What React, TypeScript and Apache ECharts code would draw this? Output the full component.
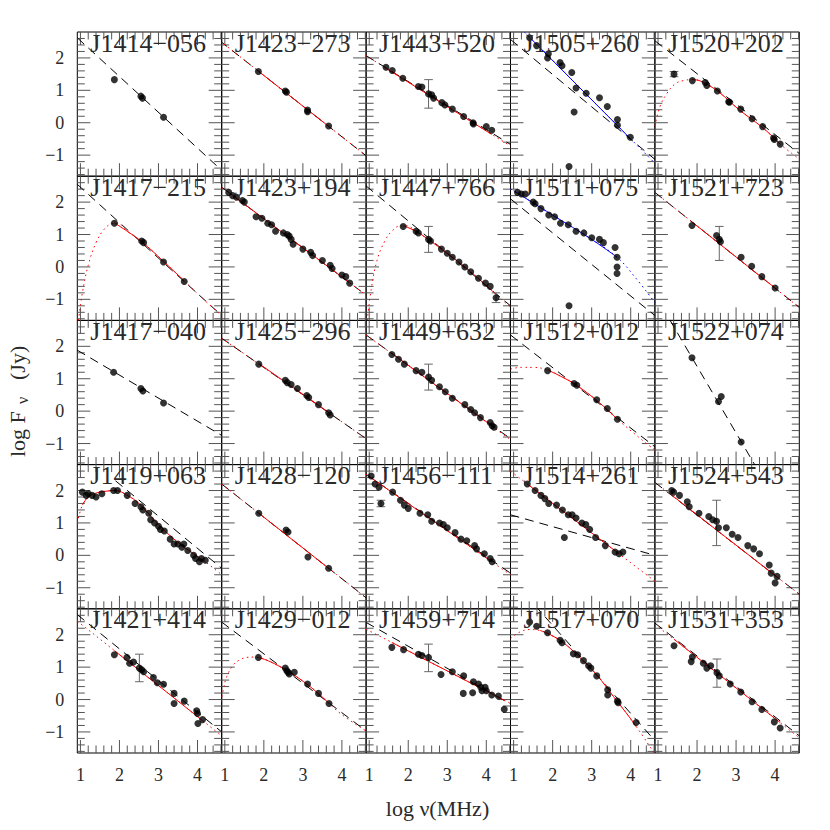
import React, { useEffect, useRef } from 'react';
import * as echarts from 'echarts';

// ---------- axes ----------
const X_MIN = 0.92, X_MAX = 4.62, Y_MIN = -1.65, Y_MAX = 2.8;
const X_MAJOR = [1, 2, 3, 4];
const X_MINOR = [1.2, 1.4, 1.6, 1.8, 2.2, 2.4, 2.6, 2.8, 3.2, 3.4, 3.6, 3.8, 4.2, 4.4, 4.6];
const Y_MAJOR = [-1, 0, 1, 2];
const Y_MINOR = [-1.6, -1.4, -1.2, -0.8, -0.6, -0.4, -0.2, 0.2, 0.4, 0.6, 0.8, 1.2, 1.4, 1.6, 1.8, 2.2, 2.4, 2.6];

// ---------- panel data (log nu [MHz], log F [Jy]) ----------
// Row 1
const J1414m056_pts = [[1.87, 1.33], [2.55, 0.82], [2.59, 0.76], [3.13, 0.17]];
const J1414m056_dash = [[0.92, 2.62], [4.62, -1.47]];

const J1423m273_pts = [[1.86, 1.58], [2.55, 0.98], [2.58, 0.94], [3.12, 0.39], [3.12, 0.34], [3.66, -0.1]];
const J1423m273_dash = [[0.88, 2.52], [4.62, -1.02]];
const J1423m273_fit = [[1.86, 1.59], [3.66, -0.11]];
const J1423m273_ext = [[0.88, 2.52], [4.62, -1.02]];

const J1443p520_pts = [[1.43, 1.71], [1.59, 1.61], [1.86, 1.37], [2.26, 1.12], [2.35, 1.1], [2.52, 0.89], [2.6, 0.86], [2.65, 0.76], [2.86, 0.62], [2.94, 0.55], [3.13, 0.42], [3.42, 0.19], [3.66, 0.0], [3.67, -0.04], [4.0, -0.12], [4.14, -0.23]];
const J1443p520_err = [[2.52, 0.45, 1.33]];
const J1443p520_dash = [[0.92, 2.07], [4.62, -0.67]];
const J1443p520_fit = [[1.43, 1.68], [4.14, -0.36]];
const J1443p520_ext = [[0.92, 2.07], [4.62, -0.72]];

const J1505p260_pts = [[1.41, 2.62], [1.59, 2.38], [1.89, 2.13], [1.87, 2.0], [2.19, 1.86], [2.24, 1.76], [2.49, 1.55], [2.6, 1.07], [2.55, 0.33], [2.86, 0.91], [3.2, 0.77], [3.4, 0.5], [3.66, 0.1], [3.66, -0.08], [3.99, -0.45], [2.42, -1.35]];
const J1505p260_dash = [[0.92, 2.57], [4.62, -1.13]];
const J1505p260_blue = [[1.34, 2.72], [3.99, -0.49]];
const J1505p260_blueExt = [[0.92, 3.23], [4.62, -1.25]];

const J1520p202_pts = [[1.41, 1.5], [1.88, 1.3], [2.21, 1.24], [2.25, 1.15], [2.52, 0.98], [2.81, 0.65], [2.83, 0.63], [3.12, 0.42], [3.41, 0.12], [3.68, -0.12], [3.96, -0.47], [3.98, -0.52], [4.13, -0.66]];
const J1520p202_err = [[1.41, 1.42, 1.58]];
const J1520p202_dash = [[0.93, 2.52], [4.62, -0.95]];
const J1520p202_fit = [[1.88, 1.33], [2.08, 1.29], [2.52, 0.98], [3.09, 0.39], [3.7, -0.17], [4.13, -0.66]];
const J1520p202_ext = [[0.92, -0.1], [1.05, 0.5], [1.23, 0.91], [1.44, 1.2], [1.65, 1.3], [1.88, 1.33], [2.08, 1.29], [2.52, 0.98], [3.09, 0.39], [3.7, -0.17], [4.13, -0.66], [4.62, -1.12]];

// Row 2
const J1417m215_pts = [[1.87, 1.35], [2.57, 0.8], [2.62, 0.75], [3.13, 0.15], [3.66, -0.45]];
const J1417m215_dash = [[0.92, 2.55], [4.62, -1.5]];
const J1417m215_fit = [[1.87, 1.36], [2.2, 1.1], [2.57, 0.78], [3.13, 0.17], [3.66, -0.43]];
const J1417m215_ext = [[0.95, -1.65], [1.05, -0.8], [1.2, 0.05], [1.4, 0.75], [1.6, 1.15], [1.8, 1.33], [1.95, 1.35], [2.2, 1.1], [2.57, 0.78], [3.13, 0.17], [3.66, -0.43], [4.2, -1.05], [4.62, -1.5]];

const J1423p194_pts = [[1.1, 2.3], [1.2, 2.2], [1.3, 2.15], [1.45, 2.05], [1.5, 2.0], [1.8, 1.55], [1.95, 1.5], [2.1, 1.35], [2.2, 1.3], [2.3, 1.1], [2.5, 1.05], [2.6, 1.0], [2.65, 0.95], [2.7, 0.85], [2.75, 0.7], [3.0, 0.55], [3.2, 0.45], [3.25, 0.35], [3.5, 0.2], [3.7, 0.05], [3.75, -0.05], [4.0, -0.25], [4.1, -0.3], [4.2, -0.5]];
const J1423p194_dash = [[0.92, 2.46], [4.62, -0.87]];
const J1423p194_fit = [[1.1, 2.3], [4.2, -0.49]];
const J1423p194_ext = [[0.92, 2.46], [4.62, -0.87]];

const J1447p766_pts = [[1.87, 1.25], [2.2, 1.1], [2.26, 1.05], [2.52, 0.85], [2.57, 0.8], [2.85, 0.55], [3.0, 0.42], [3.13, 0.3], [3.3, 0.15], [3.45, 0.0], [3.6, -0.15], [3.8, -0.35], [3.98, -0.5], [4.1, -0.6], [4.25, -0.95]];
const J1447p766_err = [[2.52, 0.45, 1.25], [4.25, -1.1, -0.8]];
const J1447p766_dash = [[0.92, 2.5], [4.62, -1.2]];
const J1447p766_fit = [[1.87, 1.27], [2.2, 1.1], [2.57, 0.8], [3.13, 0.3], [3.6, -0.15], [4.25, -0.85]];
const J1447p766_ext = [[0.95, -1.65], [1.05, -0.7], [1.2, 0.2], [1.4, 0.8], [1.6, 1.13], [1.8, 1.27], [1.95, 1.27], [2.2, 1.1], [2.57, 0.8], [3.13, 0.3], [3.6, -0.15], [4.25, -0.85], [4.62, -1.25]];

const J1511p075_pts = [[1.1, 2.3], [1.2, 2.25], [1.3, 2.25], [1.5, 2.0], [1.55, 1.95], [1.7, 1.8], [1.9, 1.6], [2.05, 1.55], [2.2, 1.35], [2.4, 1.3], [2.6, 1.1], [2.8, 1.05], [3.0, 0.9], [3.2, 0.85], [3.3, 0.75], [3.6, 0.6], [3.65, 0.3], [3.65, 0.0], [3.65, -0.2], [2.42, -1.2]];
const J1511p075_dash = [[0.92, 2.1], [4.62, -1.5]];
const J1511p075_blue = [[1.0, 2.35], [2.0, 1.6], [3.0, 0.85], [3.65, 0.3]];
const J1511p075_blueExt = [[0.92, 2.41], [1.0, 2.35], [2.0, 1.6], [3.0, 0.85], [3.65, 0.3], [4.1, -0.3], [4.62, -1.1]];

const J1521p723_pts = [[1.87, 1.28], [2.5, 0.97], [2.57, 0.85], [2.6, 0.78], [3.13, 0.3], [3.4, 0.02], [3.66, -0.3], [4.0, -0.65]];
const J1521p723_err = [[2.57, 0.2, 1.25]];
const J1521p723_dash = [[0.92, 2.3], [4.62, -1.25]];
const J1521p723_fit = [[1.87, 1.39], [4.0, -0.65]];
const J1521p723_ext = [[0.92, 2.3], [4.62, -1.25]];

// Row 3
const J1417m040_pts = [[1.85, 1.2], [2.55, 0.7], [2.6, 0.62], [3.13, 0.25]];
const J1417m040_dash = [[0.92, 1.88], [4.62, -0.75]];

const J1425m296_pts = [[1.87, 1.45], [2.55, 0.95], [2.6, 0.88], [2.7, 0.82], [2.86, 0.7], [3.1, 0.48], [3.15, 0.42], [3.4, 0.2], [3.66, -0.05], [3.7, -0.12]];
const J1425m296_dash = [[0.92, 2.25], [4.62, -0.85]];
const J1425m296_fit = [[1.87, 1.47], [3.7, -0.07]];
const J1425m296_ext = [[0.92, 2.25], [4.62, -0.85]];

const J1449p632_pts = [[1.58, 1.75], [1.75, 1.6], [1.9, 1.45], [2.2, 1.25], [2.35, 1.2], [2.52, 1.05], [2.6, 0.95], [2.8, 0.75], [2.95, 0.6], [3.13, 0.4], [3.45, 0.2], [3.6, 0.05], [3.7, -0.05], [3.85, -0.2], [4.1, -0.35], [4.15, -0.45], [4.2, -0.5]];
const J1449p632_err = [[2.52, 0.65, 1.45]];
const J1449p632_dash = [[0.92, 2.35], [4.62, -0.85]];
const J1449p632_fit = [[1.58, 1.78], [4.2, -0.5]];
const J1449p632_ext = [[0.92, 2.35], [4.62, -0.88]];

const J1512p012_pts = [[1.87, 1.25], [2.55, 0.85], [2.62, 0.8], [3.13, 0.35], [3.4, 0.08], [3.66, -0.25]];
const J1512p012_dash = [[0.92, 2.35], [4.62, -1.1]];
const J1512p012_fit = [[1.87, 1.27], [2.2, 1.08], [2.57, 0.83], [3.13, 0.33], [3.66, -0.25]];
const J1512p012_ext = [[0.92, 1.3], [1.2, 1.35], [1.5, 1.35], [1.87, 1.27], [2.2, 1.08], [2.57, 0.83], [3.13, 0.33], [3.66, -0.25], [4.2, -0.8], [4.62, -1.2]];

const J1522p074_pts = [[1.87, 1.65], [2.55, 0.3], [2.62, 0.45], [3.13, -0.95]];
const J1522p074_dash = [[1.3, 2.82], [3.5, -1.7]];

// Row 4
const J1419p063_pts = [[1.05, 1.95], [1.15, 1.85], [1.2, 1.9], [1.3, 1.85], [1.4, 1.8], [1.55, 1.9], [1.85, 2.0], [1.95, 2.0], [2.2, 1.85], [2.4, 1.6], [2.55, 1.5], [2.6, 1.4], [2.75, 1.3], [2.8, 1.1], [2.9, 1.0], [3.0, 0.9], [3.05, 0.8], [3.15, 0.75], [3.3, 0.5], [3.4, 0.35], [3.5, 0.35], [3.6, 0.25], [3.65, 0.35], [3.75, 0.15], [3.9, 0.0], [3.95, -0.1], [4.05, -0.2], [4.1, -0.1], [4.2, -0.15]];
const J1419p063_dash = [[1.9, 2.3], [4.62, -0.4]];
const J1419p063_fit = [[1.05, 1.55], [1.2, 1.8], [1.4, 1.92], [1.6, 1.97], [1.9, 2.0], [2.2, 1.85], [2.5, 1.6], [3.0, 0.95], [3.5, 0.4], [4.2, -0.2]];
const J1419p063_ext = [[0.92, 1.0], [1.05, 1.55], [1.2, 1.8], [1.4, 1.92], [1.6, 1.97], [1.9, 2.0], [2.2, 1.85], [2.5, 1.6], [3.0, 0.95], [3.5, 0.4], [4.2, -0.2], [4.62, -0.6]];

const J1428m120_pts = [[1.87, 1.3], [2.57, 0.78], [2.62, 0.72], [3.13, -0.05], [3.66, -0.4]];
const J1428m120_dash = [[0.92, 2.2], [4.62, -1.31]];
const J1428m120_fit = [[1.87, 1.3], [3.66, -0.4]];
const J1428m120_ext = [[0.92, 2.2], [4.62, -1.31]];

const J1456m111_pts = [[1.05, 2.45], [1.15, 2.2], [1.25, 2.1], [1.3, 1.6], [1.6, 1.95], [1.8, 1.7], [1.9, 1.55], [2.0, 1.45], [2.3, 1.3], [2.5, 1.25], [2.6, 1.05], [2.8, 1.0], [2.9, 0.95], [3.0, 0.85], [3.2, 0.7], [3.35, 0.5], [3.5, 0.45], [3.7, 0.3], [3.75, 0.2], [3.95, 0.05], [4.1, -0.1], [4.15, -0.2]];
const J1456m111_err = [[1.3, 1.5, 1.7]];
const J1456m111_dash = [[0.92, 2.5], [4.62, -0.55]];
const J1456m111_fit = [[1.05, 2.39], [4.15, -0.2]];
const J1456m111_ext = [[0.92, 2.5], [4.62, -0.6]];

const J1514p261_pts = [[1.35, 2.2], [1.55, 2.0], [1.7, 1.85], [1.8, 1.75], [1.9, 1.6], [2.1, 1.55], [2.25, 1.4], [2.4, 1.25], [2.5, 1.25], [2.6, 1.15], [2.75, 1.0], [2.85, 0.95], [2.95, 0.8], [3.1, 0.55], [3.35, 0.3], [3.6, 0.1], [3.7, 0.05], [2.3, 0.55], [3.8, 0.1]];
const J1514p261_dash = [[0.92, 1.25], [4.62, 0.0]];
const J1514p261_fit = [[1.35, 2.2], [3.7, 0.05]];
const J1514p261_ext = [[0.92, 2.6], [4.62, -0.8]];

const J1524p543_pts = [[1.35, 2.0], [1.4, 1.95], [1.55, 1.85], [1.75, 1.65], [1.8, 1.5], [2.05, 1.3], [2.3, 1.2], [2.4, 1.1], [2.5, 1.05], [2.55, 0.85], [2.75, 0.85], [2.9, 0.65], [3.05, 0.55], [3.3, 0.3], [3.45, 0.2], [3.6, 0.05], [3.85, -0.3], [3.9, -0.55], [4.05, -0.65], [4.0, -0.85]];
const J1524p543_err = [[2.5, 0.3, 1.7]];
const J1524p543_dash = [[0.92, 2.25], [4.62, -1.2]];
const J1524p543_fit = [[1.35, 1.86], [4.05, -0.67]];
const J1524p543_ext = [[0.92, 2.25], [4.62, -1.2]];

// Row 5
const J1421p414_pts = [[1.87, 1.38], [2.19, 1.3], [2.26, 1.12], [2.36, 1.16], [2.51, 0.97], [2.57, 0.92], [2.62, 0.86], [2.87, 0.68], [2.97, 0.52], [3.13, 0.47], [3.4, 0.19], [3.4, -0.12], [3.66, -0.05], [3.98, -0.35], [4.0, -0.43], [4.01, -0.74], [4.13, -0.62]];
const J1421p414_err = [[2.51, 0.55, 1.4]];
const J1421p414_dash = [[0.92, 2.62], [4.62, -1.0]];
const J1421p414_fit = [[1.87, 1.51], [4.13, -0.65]];
const J1421p414_ext = [[0.92, 2.42], [4.62, -1.12]];

const J1429m012_pts = [[1.86, 1.3], [2.55, 0.97], [2.59, 0.89], [2.65, 0.79], [2.62, 0.84], [2.78, 0.84], [3.12, 0.48], [3.4, 0.19], [3.67, -0.12]];
const J1429m012_dash = [[0.92, 2.39], [4.62, -0.97]];
const J1429m012_fit = [[1.86, 1.3], [2.16, 1.17], [2.55, 0.92], [3.02, 0.55], [3.44, 0.14], [3.67, -0.12]];
const J1429m012_ext = [[0.88, -0.22], [0.96, 0.29], [1.05, 0.71], [1.22, 1.07], [1.39, 1.23], [1.56, 1.3], [1.73, 1.31], [1.86, 1.3], [2.16, 1.17], [2.55, 0.92], [3.02, 0.55], [3.44, 0.14], [3.96, -0.43], [4.62, -0.97]];

const J1459p714_pts = [[1.58, 1.61], [1.88, 1.54], [2.26, 1.4], [2.35, 1.36], [2.52, 1.3], [2.84, 0.77], [3.13, 0.86], [3.42, 0.73], [3.41, 0.19], [3.65, 0.21], [3.67, 0.55], [3.8, 0.48], [3.86, 0.38], [3.89, 0.27], [3.97, 0.38], [4.0, 0.27], [4.14, 0.14], [4.31, 0.11], [4.46, -0.3]];
const J1459p714_err = [[2.52, 0.86, 1.71]];
const J1459p714_dash = [[0.92, 2.38], [4.62, -0.14]];
const J1459p714_fit = [[1.58, 1.76], [4.46, -0.02]];
const J1459p714_ext = [[0.92, 2.17], [4.62, -0.12]];

const J1517p070_pts = [[1.41, 2.39], [1.59, 2.26], [1.87, 2.06], [2.19, 1.83], [2.24, 1.75], [2.53, 1.41], [2.64, 1.38], [2.79, 1.2], [2.92, 1.04], [2.98, 0.97], [3.13, 0.73], [3.41, 0.3], [3.41, 0.14], [3.66, -0.05], [3.68, -0.1], [4.14, -0.71]];
const J1517p070_dash = [[1.55, 2.9], [4.62, -1.27]];
const J1517p070_fit = [[1.68, 2.13], [1.94, 2.0], [2.28, 1.75], [2.71, 1.28], [3.13, 0.76], [3.56, 0.09], [3.99, -0.58], [4.14, -0.84]];
const J1517p070_ext = [[0.92, 1.88], [1.17, 2.09], [1.42, 2.16], [1.68, 2.13], [1.94, 2.0], [2.28, 1.75], [2.71, 1.28], [3.13, 0.76], [3.56, 0.09], [3.99, -0.58], [4.33, -1.16], [4.5, -1.47], [4.62, -1.68]];

const J1531p353_pts = [[1.41, 1.66], [1.88, 1.31], [1.85, 1.17], [2.16, 1.12], [2.25, 0.97], [2.35, 1.04], [2.51, 0.83], [2.57, 0.73], [2.85, 0.48], [3.12, 0.23], [3.41, -0.07], [3.66, -0.31], [3.98, -0.69], [4.13, -0.88]];
const J1531p353_err = [[2.51, 0.38, 1.25]];
const J1531p353_dash = [[0.92, 2.36], [4.62, -1.12]];
const J1531p353_fit = [[1.41, 1.86], [4.13, -0.71]];
const J1531p353_ext = [[0.92, 2.32], [4.62, -1.18]];

const NAMES = [
  'J1414−056', 'J1423−273', 'J1443+520', 'J1505+260', 'J1520+202',
  'J1417−215', 'J1423+194', 'J1447+766', 'J1511+075', 'J1521+723',
  'J1417−040', 'J1425−296', 'J1449+632', 'J1512+012', 'J1522+074',
  'J1419+063', 'J1428−120', 'J1456−111', 'J1514+261', 'J1524+543',
  'J1421+414', 'J1429−012', 'J1459+714', 'J1517+070', 'J1531+353',
];

type Panel = { pts: number[][]; dash?: number[][]; fit?: number[][]; ext?: number[][]; blue?: number[][]; blueExt?: number[][]; err?: number[][]; };

const PANELS: Panel[] = [
  { pts: J1414m056_pts, dash: J1414m056_dash },
  { pts: J1423m273_pts, dash: J1423m273_dash, fit: J1423m273_fit, ext: J1423m273_ext },
  { pts: J1443p520_pts, dash: J1443p520_dash, fit: J1443p520_fit, ext: J1443p520_ext, err: J1443p520_err },
  { pts: J1505p260_pts, dash: J1505p260_dash, blue: J1505p260_blue, blueExt: J1505p260_blueExt },
  { pts: J1520p202_pts, dash: J1520p202_dash, fit: J1520p202_fit, ext: J1520p202_ext, err: J1520p202_err },
  { pts: J1417m215_pts, dash: J1417m215_dash, fit: J1417m215_fit, ext: J1417m215_ext },
  { pts: J1423p194_pts, dash: J1423p194_dash, fit: J1423p194_fit, ext: J1423p194_ext },
  { pts: J1447p766_pts, dash: J1447p766_dash, fit: J1447p766_fit, ext: J1447p766_ext, err: J1447p766_err },
  { pts: J1511p075_pts, dash: J1511p075_dash, blue: J1511p075_blue, blueExt: J1511p075_blueExt },
  { pts: J1521p723_pts, dash: J1521p723_dash, fit: J1521p723_fit, ext: J1521p723_ext, err: J1521p723_err },
  { pts: J1417m040_pts, dash: J1417m040_dash },
  { pts: J1425m296_pts, dash: J1425m296_dash, fit: J1425m296_fit, ext: J1425m296_ext },
  { pts: J1449p632_pts, dash: J1449p632_dash, fit: J1449p632_fit, ext: J1449p632_ext, err: J1449p632_err },
  { pts: J1512p012_pts, dash: J1512p012_dash, fit: J1512p012_fit, ext: J1512p012_ext },
  { pts: J1522p074_pts, dash: J1522p074_dash },
  { pts: J1419p063_pts, dash: J1419p063_dash, fit: J1419p063_fit, ext: J1419p063_ext },
  { pts: J1428m120_pts, dash: J1428m120_dash, fit: J1428m120_fit, ext: J1428m120_ext },
  { pts: J1456m111_pts, dash: J1456m111_dash, fit: J1456m111_fit, ext: J1456m111_ext, err: J1456m111_err },
  { pts: J1514p261_pts, dash: J1514p261_dash, fit: J1514p261_fit, ext: J1514p261_ext },
  { pts: J1524p543_pts, dash: J1524p543_dash, fit: J1524p543_fit, ext: J1524p543_ext, err: J1524p543_err },
  { pts: J1421p414_pts, dash: J1421p414_dash, fit: J1421p414_fit, ext: J1421p414_ext, err: J1421p414_err },
  { pts: J1429m012_pts, dash: J1429m012_dash, fit: J1429m012_fit, ext: J1429m012_ext },
  { pts: J1459p714_pts, dash: J1459p714_dash, fit: J1459p714_fit, ext: J1459p714_ext, err: J1459p714_err },
  { pts: J1517p070_pts, dash: J1517p070_dash, fit: J1517p070_fit, ext: J1517p070_ext },
  { pts: J1531p353_pts, dash: J1531p353_dash, fit: J1531p353_fit, ext: J1531p353_ext, err: J1531p353_err },
];

// ---------- layout ----------
const GRID_LEFT = 77.3, GRID_TOP = 32, CELL_W = 144.4, CELL_H = 144.2;
const FONT = "'Liberation Serif', 'DejaVu Serif', serif";
const TXT = '#2a2a2a';

const TICKS: number[][] = [];
X_MAJOR.forEach(v => { TICKS.push([v, 1, 0]); TICKS.push([v, 1, 1]); });
X_MINOR.forEach(v => { TICKS.push([v, 0, 0]); TICKS.push([v, 0, 1]); });
Y_MAJOR.forEach(v => { TICKS.push([v, 1, 2]); TICKS.push([v, 1, 3]); });
Y_MINOR.forEach(v => { TICKS.push([v, 0, 2]); TICKS.push([v, 0, 3]); });

const tickRender = (_p: any, api: any) => {
  const v = api.value(0), major = api.value(1), side = api.value(2);
  const len = major ? 13 : 7.5;
  let x1, y1, x2, y2;
  if (side === 0 || side === 1) {
    const p = api.coord([v, side === 0 ? Y_MIN : Y_MAX]);
    x1 = x2 = p[0]; y1 = p[1]; y2 = side === 0 ? p[1] - len : p[1] + len;
  } else {
    const p = api.coord([side === 2 ? X_MIN : X_MAX, v]);
    y1 = y2 = p[1]; x1 = p[0]; x2 = side === 2 ? p[0] + len : p[0] - len;
  }
  return { type: 'line', shape: { x1, y1, x2, y2 }, style: { stroke: '#555', lineWidth: 1 }, silent: true };
};

const errRender = (_p: any, api: any) => {
  const x = api.value(0), lo = api.value(1), hi = api.value(2);
  const a = api.coord([x, lo]), b = api.coord([x, hi]);
  const w = 4.3;
  const st = { stroke: '#666', lineWidth: 1 };
  return {
    type: 'group', children: [
      { type: 'line', shape: { x1: a[0], y1: a[1], x2: b[0], y2: b[1] }, style: st },
      { type: 'line', shape: { x1: a[0] - w, y1: a[1], x2: a[0] + w, y2: a[1] }, style: st },
      { type: 'line', shape: { x1: b[0] - w, y1: b[1], x2: b[0] + w, y2: b[1] }, style: st },
    ],
  };
};

const fmt = (v: number) => (v < 0 ? '−' + Math.abs(v) : String(v));

function buildOption() {
  const grid: any[] = [], xAxis: any[] = [], yAxis: any[] = [], series: any[] = [], graphic: any[] = [];
  PANELS.forEach((p, i) => {
    const r = Math.floor(i / 5), c = i % 5;
    const left = GRID_LEFT + c * CELL_W, top = GRID_TOP + r * CELL_H;
    grid.push({ left, top, width: CELL_W, height: CELL_H, show: true, borderColor: '#000', borderWidth: 1, backgroundColor: 'transparent' });
    xAxis.push({
      type: 'value', gridIndex: i, min: X_MIN, max: X_MAX,
      axisLine: { show: false }, axisTick: { show: false }, splitLine: { show: false },
      axisLabel: r === 4 ? { show: true, customValues: X_MAJOR, margin: 13, fontSize: 18, fontFamily: FONT, color: TXT, formatter: fmt } : { show: false },
    });
    yAxis.push({
      type: 'value', gridIndex: i, min: Y_MIN, max: Y_MAX,
      axisLine: { show: false }, axisTick: { show: false }, splitLine: { show: false },
      axisLabel: c === 0 ? { show: true, customValues: Y_MAJOR, margin: 13, fontSize: 18, fontFamily: FONT, color: TXT, formatter: fmt } : { show: false },
    });
    const base = { xAxisIndex: i, yAxisIndex: i, silent: true };
    series.push({ ...base, type: 'custom', renderItem: tickRender, data: TICKS, clip: false, z: 1 });
    if (p.dash) series.push({ ...base, type: 'line', data: p.dash, symbol: 'none', clip: true, lineStyle: { color: '#000', width: 1, type: [9, 6] }, z: 2 });
    if (p.ext) series.push({ ...base, type: 'line', data: p.ext, symbol: 'none', smooth: p.ext.length > 2 ? 0.4 : false, clip: true, lineStyle: { color: '#ff0000', width: 1, type: [1.5, 3.5] }, z: 3 });
    if (p.fit) series.push({ ...base, type: 'line', data: p.fit, symbol: 'none', smooth: p.fit.length > 2 ? 0.4 : false, clip: true, lineStyle: { color: '#ff0000', width: 1 }, z: 3 });
    if (p.blueExt) series.push({ ...base, type: 'line', data: p.blueExt, symbol: 'none', smooth: p.blueExt.length > 2 ? 0.4 : false, clip: true, lineStyle: { color: '#0000ff', width: 1, type: [1.5, 3.5] }, z: 3 });
    if (p.blue) series.push({ ...base, type: 'line', data: p.blue, symbol: 'none', smooth: p.blue.length > 2 ? 0.4 : false, clip: true, lineStyle: { color: '#0000ff', width: 1 }, z: 3 });
    if (p.err) series.push({ ...base, type: 'custom', renderItem: errRender, data: p.err, clip: true, z: 4 });
    series.push({ ...base, type: 'scatter', data: p.pts, symbol: 'circle', symbolSize: 7, itemStyle: { color: '#000' }, clip: true, z: 5 });
    graphic.push({
      type: 'text', x: left + 13, y: top + 11, silent: true, z: 10,
      style: { text: NAMES[i], font: `26px ${FONT}`, fill: TXT, align: 'left', verticalAlign: 'middle' },
    });
  });
  graphic.push({
    type: 'text', x: 437.5, y: 808, silent: true,
    style: { text: 'log ν(MHz)', font: `22px ${FONT}`, fill: TXT, align: 'center', verticalAlign: 'middle' },
  });
  graphic.push({ type: 'text', x: 17.6, y: 457, rotation: Math.PI / 2, silent: true, style: { text: 'log F', font: `22px ${FONT}`, fill: TXT, align: 'left', verticalAlign: 'middle' } });
  graphic.push({ type: 'text', x: 22, y: 404, rotation: Math.PI / 2, silent: true, style: { text: 'ν', font: `16px ${FONT}`, fill: TXT, align: 'left', verticalAlign: 'middle' } });
  graphic.push({ type: 'text', x: 17.6, y: 380, rotation: Math.PI / 2, silent: true, style: { text: '(Jy)', font: `22px ${FONT}`, fill: TXT, align: 'left', verticalAlign: 'middle' } });
  return { animation: false, backgroundColor: '#fff', grid, xAxis, yAxis, series, graphic };
}

export default function App() {
  const ref = useRef<HTMLDivElement>(null);
  useEffect(() => {
    if (!ref.current) return;
    const chart = echarts.init(ref.current, undefined, { renderer: 'svg' });
    chart.setOption(buildOption() as any);
    return () => chart.dispose();
  }, []);
  return <div ref={ref} style={{ position: 'absolute', left: 0, top: 0, width: 830, height: 830 }} />;
}
